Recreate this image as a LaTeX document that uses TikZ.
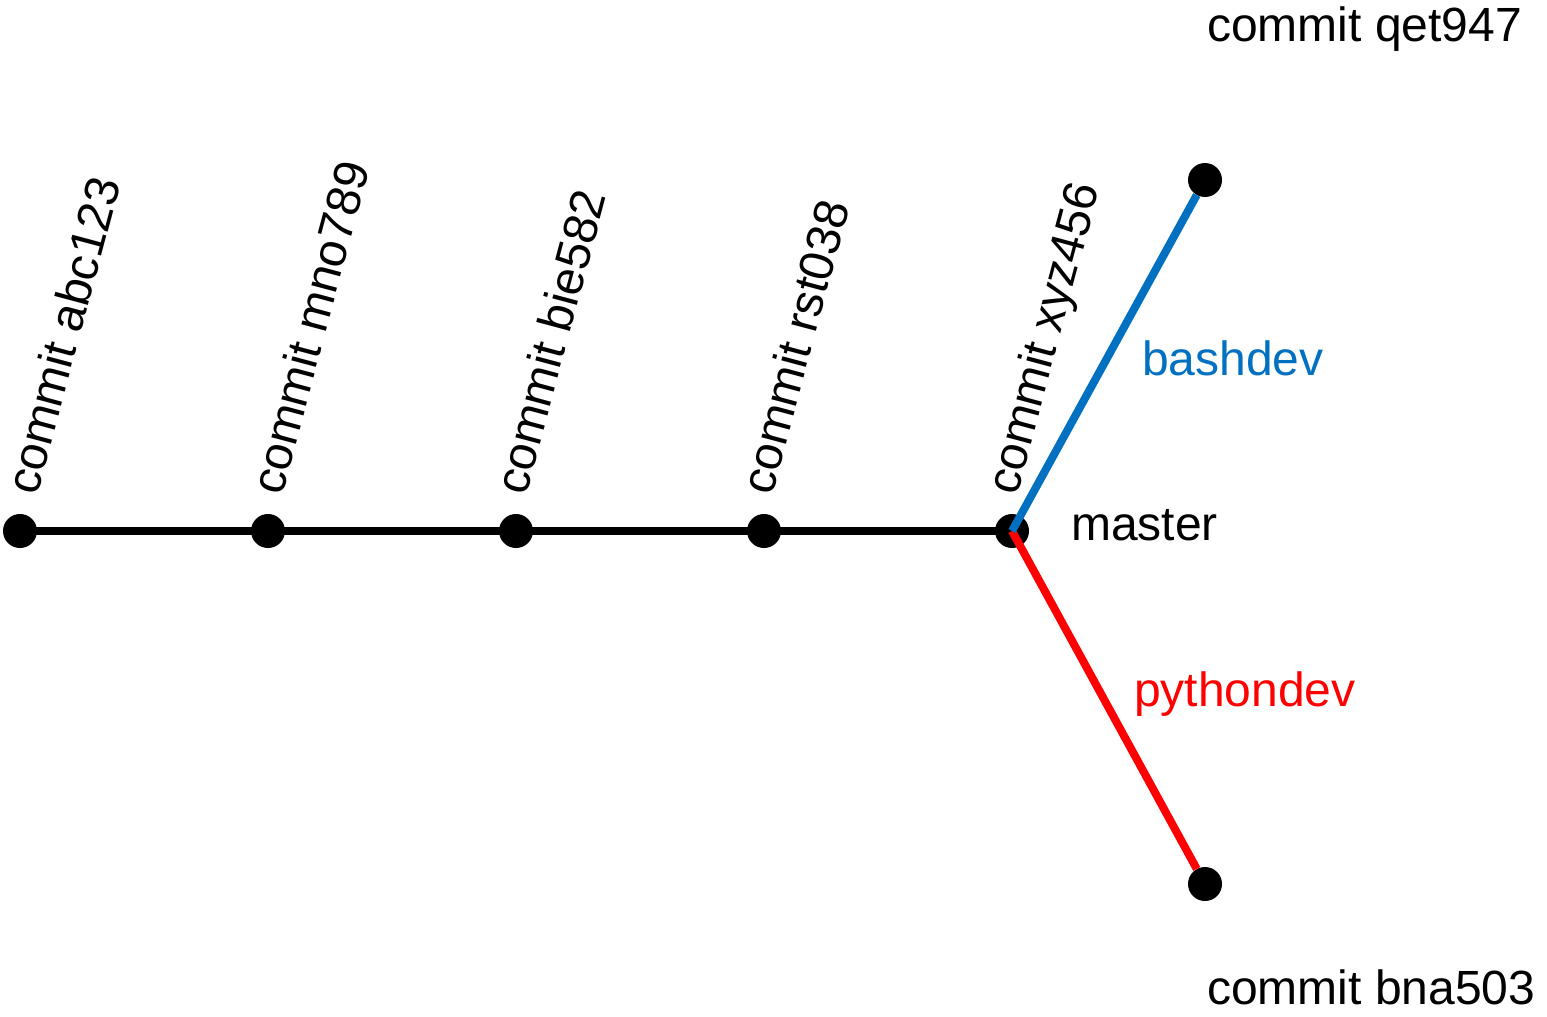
\documentclass[tikz,border=0pt]{standalone}
\usepackage{fontspec}
\setmainfont{Liberation Sans}
\definecolor{bashblue}{RGB}{0,112,192}
\definecolor{pyred}{RGB}{255,0,0}
\begin{document}
\begin{tikzpicture}[x=1pt,y=-1pt,
  dot/.style={circle,fill=black,inner sep=0pt,minimum size=34pt},
  lbl/.style={inner sep=0pt,font=\fontsize{48}{58}\selectfont},
  rlbl/.style={lbl,rotate=75,anchor=base west},
  trunk/.style={line width=8pt,black},
  branch/.style={line width=8pt}]
\useasboundingbox (0,0) rectangle (1547,1017);
% commits
\node[dot] (c1) at (20,531) {};
\node[dot] (c2) at (268,531) {};
\node[dot] (c3) at (516,531) {};
\node[dot] (c4) at (764,531) {};
\node[dot] (c5) at (1012,531) {};
\node[dot] (q) at (1205,180) {};
\node[dot] (b) at (1205,884) {};
% connectors
\draw[trunk] (c1.center) -- (c2.center) -- (c3.center) -- (c4.center) -- (c5.center);
\draw[branch,pyred] (c5.center) -- (b);
\draw[branch,bashblue] (c5.center) -- (q);
% labels
\node[rlbl] (l1) at (37,497) {commit abc123};
\node[rlbl] (l2) at (282,497) {commit mno789};
\node[rlbl] (l3) at (526,497) {commit bie582};
\node[rlbl] (l4) at (772,497) {commit rst038};
\node[rlbl] (l5) at (1017,497) {commit xyz456};
\node[lbl,anchor=base west] (lq) at (1207,41) {commit qet947};
\node[lbl,anchor=base west] (lb) at (1207,1004) {commit bna503};
\node[lbl,anchor=base west] (lm) at (1071,540) {master};
\node[lbl,anchor=base west,text=bashblue] (lbash) at (1142,375) {bashdev};
\node[lbl,anchor=base west,text=pyred] (lpy) at (1134,706) {pythondev};
\end{tikzpicture}
\end{document}
